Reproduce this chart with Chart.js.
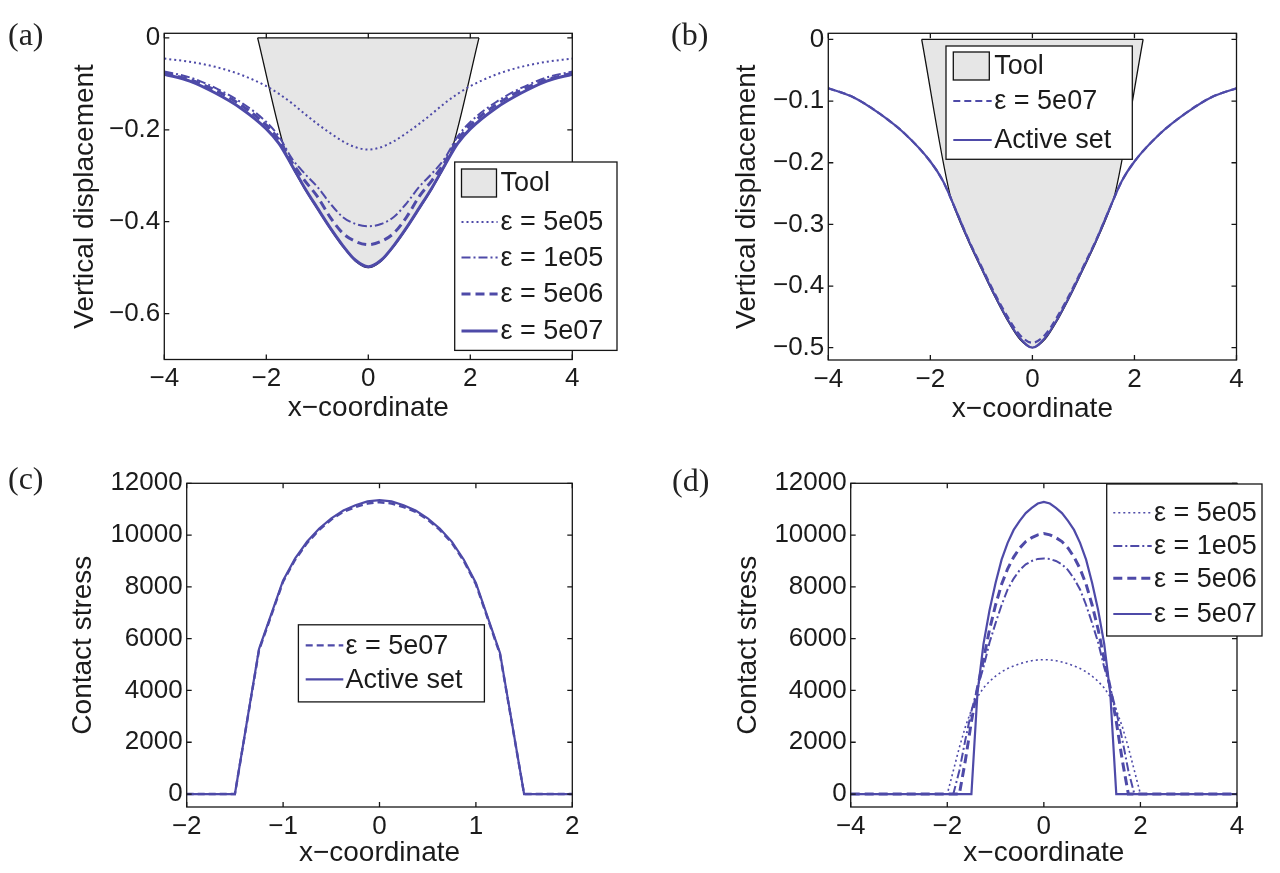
<!DOCTYPE html>
<html>
<head>
<meta charset="utf-8">
<script src="https://cdn.jsdelivr.net/npm/chart.js"></script>
<style>
  body { margin: 0; background: #fff; width: 1280px; height: 873px; position: relative; overflow: hidden; }
  .panel { position: absolute; }
  .tag { position: absolute; font-family: "Liberation Serif", "DejaVu Serif", serif; font-size: 32px; line-height: 1; color: #222; }
</style>
</head>
<body>
<div class="panel" style="left:0;top:0;width:640px;height:440px"><canvas id="chartA"></canvas></div>
<div class="panel" style="left:640px;top:0;width:640px;height:440px"><canvas id="chartB"></canvas></div>
<div class="panel" style="left:0;top:440px;width:640px;height:433px"><canvas id="chartC"></canvas></div>
<div class="panel" style="left:640px;top:440px;width:640px;height:433px"><canvas id="chartD"></canvas></div>
<span class="tag" style="left:8px;top:18px">(a)</span>
<span class="tag" style="left:671px;top:18px">(b)</span>
<span class="tag" style="left:8px;top:462px">(c)</span>
<span class="tag" style="left:672px;top:464px">(d)</span>
<script>
// vertical displacement, panels (a) and (b)
const dispX = [-4, -3.5, -3, -2.5, -2, -1.75, -1.5, -1.25, -1, -0.75, -0.5, -0.25, 0, 0.25, 0.5, 0.75, 1, 1.25, 1.5, 1.75, 2, 2.5, 3, 3.5, 4];
const disp5e05 = [-0.045, -0.052, -0.063, -0.08, -0.105, -0.122, -0.142, -0.165, -0.187, -0.207, -0.225, -0.238, -0.243, -0.238, -0.225, -0.207, -0.187, -0.165, -0.142, -0.122, -0.105, -0.08, -0.063, -0.052, -0.045];
const disp1e05 = [-0.073, -0.086, -0.109, -0.14, -0.183, -0.215, -0.262, -0.295, -0.324, -0.36, -0.39, -0.405, -0.41, -0.405, -0.39, -0.36, -0.324, -0.295, -0.262, -0.215, -0.183, -0.14, -0.109, -0.086, -0.073];
const disp5e06 = [-0.077, -0.091, -0.114, -0.146, -0.19, -0.222, -0.27, -0.31, -0.345, -0.39, -0.425, -0.443, -0.45, -0.443, -0.425, -0.39, -0.345, -0.31, -0.27, -0.222, -0.19, -0.146, -0.114, -0.091, -0.077];
const disp5e07 = [-0.079, -0.094, -0.12, -0.153, -0.198, -0.23, -0.277, -0.326, -0.37, -0.413, -0.452, -0.484, -0.498, -0.484, -0.452, -0.413, -0.37, -0.326, -0.277, -0.23, -0.198, -0.153, -0.12, -0.094, -0.079];
const dispActive = [-0.079, -0.094, -0.12, -0.153, -0.198, -0.23, -0.277, -0.326, -0.37, -0.413, -0.452, -0.484, -0.5, -0.484, -0.452, -0.413, -0.37, -0.326, -0.277, -0.23, -0.198, -0.153, -0.12, -0.094, -0.079];
const dispPenaltyB = [-0.079, -0.094, -0.12, -0.153, -0.198, -0.23, -0.277, -0.325, -0.368, -0.41, -0.448, -0.479, -0.492, -0.479, -0.448, -0.41, -0.368, -0.325, -0.277, -0.23, -0.198, -0.153, -0.12, -0.094, -0.079];

// tool outline
const toolX = [-2.17, -1.62, -1.5, -1.25, -1, -0.75, -0.5, -0.25, 0, 0.25, 0.5, 0.75, 1, 1.25, 1.5, 1.62, 2.17];
const toolY = [0, -0.25, -0.279, -0.328, -0.372, -0.415, -0.454, -0.486, -0.5, -0.486, -0.454, -0.415, -0.372, -0.328, -0.279, -0.25, 0];
const toolTopX = [-2.17, 2.17];
const toolTopY = [0, 0];

// contact stress, panel (c)
const stressXc = [-2, -1.5, -1.25, -1, -0.875, -0.75, -0.625, -0.5, -0.375, -0.25, -0.125, 0, 0.125, 0.25, 0.375, 0.5, 0.625, 0.75, 0.875, 1, 1.25, 1.5, 2];
const stressActiveC = [0, 0, 5600, 8250, 9100, 9750, 10250, 10650, 10950, 11150, 11300, 11350, 11300, 11150, 10950, 10650, 10250, 9750, 9050, 8150, 5450, 0, 0];
const stressPenaltyC = [0, 0, 5550, 8200, 9050, 9700, 10200, 10600, 10900, 11080, 11220, 11270, 11220, 11080, 10900, 10600, 10200, 9700, 9000, 8100, 5400, 0, 0];

// contact stress, panel (d)
const stressXd = [-4, -3, -2, -1.875, -1.75, -1.625, -1.5, -1.375, -1.25, -1.125, -1, -0.875, -0.75, -0.625, -0.5, -0.375, -0.25, -0.125, 0,
  0.125, 0.25, 0.375, 0.5, 0.625, 0.75, 0.875, 1, 1.125, 1.25, 1.375, 1.5, 1.625, 1.75, 1.875, 2, 3, 4];
const stress5e05 = [0, 0, 0, 900, 1800, 2600, 3250, 3750, 4100, 4350, 4550, 4720, 4850, 4950, 5030, 5100, 5150, 5180, 5190,
  5180, 5150, 5100, 5030, 4950, 4850, 4720, 4550, 4350, 4100, 3750, 3250, 2600, 1800, 900, 0, 0, 0];
const stress1e05 = [0, 0, 0, 0, 900, 2100, 3200, 4100, 4900, 5850, 6600, 7300, 7900, 8320, 8650, 8870, 9000, 9080, 9100,
  9080, 9000, 8870, 8650, 8320, 7900, 7300, 6600, 5850, 4900, 4100, 3200, 2100, 900, 0, 0, 0, 0];
const stress5e06 = [0, 0, 0, 0, 0, 1300, 2800, 4100, 5200, 6350, 7300, 8100, 8700, 9150, 9500, 9750, 9900, 10010, 10060,
  10010, 9900, 9750, 9500, 9150, 8700, 8100, 7300, 6350, 5200, 4100, 2800, 1300, 0, 0, 0, 0, 0];
const stress5e07 = [0, 0, 0, 0, 0, 0, 0, 3900, 5800, 7100, 8150, 9050, 9700, 10200, 10550, 10850, 11050, 11220, 11280,
  11220, 11050, 10850, 10550, 10200, 9700, 9050, 8150, 7100, 5800, 3900, 0, 0, 0, 0, 0, 0, 0];

// ticks
const xTicksWide = [-4, -2, 0, 2, 4];
const xTicksNarrow = [-2, -1, 0, 1, 2];
const yTicksA = [-0.6, -0.4, -0.2, 0];
const yTicksB = [-0.5, -0.4, -0.3, -0.2, -0.1, 0];
const yTicksStress = [0, 2000, 4000, 6000, 8000, 10000, 12000];

const lineColor = '#4e4aa8';
const textColor = '#1b1b1b';
const fontFamily = '"Liberation Sans", Arial, sans-serif';

Chart.defaults.font.family = fontFamily;
Chart.defaults.color = textColor;

function pts(xs, ys) {
  return xs.map((x, i) => ({ x: x, y: ys[i] }));
}

function fmtTick(v) {
  return v < 0 ? '\u2212' + String(-v) : String(v);
}

function curve(xs, ys, dash, width, order, smooth) {
  return {
    data: pts(xs, ys),
    borderColor: lineColor,
    borderWidth: width,
    borderDash: dash,
    pointRadius: 0,
    fill: false,
    order: order,
    cubicInterpolationMode: smooth ? 'monotone' : 'default',
    tension: 0
  };
}

function toolSets() {
  return [{
    data: pts(toolX, toolY),
    borderColor: '#111',
    borderWidth: 1.3,
    backgroundColor: '#e6e6e6',
    fill: { value: 0 },
    pointRadius: 0,
    order: 10,
    cubicInterpolationMode: 'monotone'
  }, {
    data: pts(toolTopX, toolTopY),
    borderColor: '#111',
    borderWidth: 1.3,
    pointRadius: 0,
    fill: false,
    order: 9
  }];
}

function makeScales(xMin, xMax, xTicks, yMin, yMax, yTicks) {
  const common = {
    type: 'linear',
    grid: { display: false, drawTicks: false },
    border: { display: false }
  };
  return {
    x: Object.assign({}, common, {
      min: xMin, max: xMax,
      afterBuildTicks: axis => { axis.ticks = xTicks.map(v => ({ value: v })); },
      afterFit: s => { s.height = 40; },
      ticks: { callback: fmtTick, font: { size: 26 }, padding: 4, maxRotation: 0, autoSkip: false, color: textColor }
    }),
    y: Object.assign({}, common, {
      min: yMin, max: yMax,
      afterBuildTicks: axis => { axis.ticks = yTicks.map(v => ({ value: v })); },
      afterFit: s => { s.width = 110; },
      ticks: { callback: fmtTick, font: { size: 26 }, padding: 4, autoSkip: false, color: textColor }
    })
  };
}

// MATLAB-like box, inward ticks, axis titles and boxed legend
const frame = {
  id: 'frame',
  afterDraw(chart, args, opts) {
    const ctx = chart.ctx;
    const a = chart.chartArea;
    const sx = chart.scales.x;
    const sy = chart.scales.y;
    ctx.save();
    ctx.setLineDash([]);
    ctx.strokeStyle = '#161616';
    ctx.lineWidth = 1.3;
    ctx.strokeRect(a.left, a.top, a.right - a.left, a.bottom - a.top);
    ctx.beginPath();
    sx.ticks.forEach(t => {
      const px = sx.getPixelForValue(t.value);
      ctx.moveTo(px, a.bottom); ctx.lineTo(px, a.bottom - 5);
      ctx.moveTo(px, a.top); ctx.lineTo(px, a.top + 5);
    });
    sy.ticks.forEach(t => {
      const py = sy.getPixelForValue(t.value);
      ctx.moveTo(a.left, py); ctx.lineTo(a.left + 5, py);
      ctx.moveTo(a.right, py); ctx.lineTo(a.right - 5, py);
    });
    ctx.stroke();

    ctx.fillStyle = textColor;
    ctx.font = '28px ' + fontFamily;
    ctx.textAlign = 'center';
    ctx.textBaseline = 'middle';
    ctx.fillText(opts.xTitle, (a.left + a.right) / 2, a.bottom + opts.xTitleGap);
    ctx.save();
    ctx.translate(a.left - opts.yTitleGap, (a.top + a.bottom) / 2);
    ctx.rotate(-Math.PI / 2);
    ctx.fillText(opts.yTitle, 0, 0);
    ctx.restore();

    const lg = opts.legend;
    const b = lg.box;
    ctx.fillStyle = '#fff';
    ctx.fillRect(b[0], b[1], b[2] - b[0], b[3] - b[1]);
    ctx.strokeStyle = '#161616';
    ctx.lineWidth = 1.3;
    ctx.strokeRect(b[0], b[1], b[2] - b[0], b[3] - b[1]);
    ctx.textAlign = 'left';
    ctx.font = '27px ' + fontFamily;
    lg.items.forEach((item, i) => {
      const y = lg.rows[i];
      if (item.ds === 'tool') {
        ctx.setLineDash([]);
        ctx.fillStyle = '#e6e6e6';
        ctx.fillRect(lg.sample[0], y - 14, lg.patchW, 28);
        ctx.strokeStyle = '#111';
        ctx.lineWidth = 1.3;
        ctx.strokeRect(lg.sample[0], y - 14, lg.patchW, 28);
      } else {
        const ds = chart.data.datasets[item.ds];
        ctx.setLineDash(ds.borderDash || []);
        ctx.strokeStyle = ds.borderColor;
        ctx.lineWidth = ds.borderWidth;
        ctx.beginPath();
        ctx.moveTo(lg.sample[0], y);
        ctx.lineTo(lg.sample[1], y);
        ctx.stroke();
      }
      ctx.setLineDash([]);
      ctx.fillStyle = textColor;
      ctx.fillText(item.label, lg.textX, y + 1);
    });
    ctx.restore();
  }
};

function makeChart(id, datasets, scales, padding, frameOpts) {
  return new Chart(document.getElementById(id), {
    type: 'line',
    data: { datasets: datasets },
    options: {
      responsive: true,
      maintainAspectRatio: false,
      animation: false,
      events: [],
      layout: { padding: padding },
      scales: scales,
      plugins: { legend: { display: false }, tooltip: { enabled: false }, frame: frameOpts }
    },
    plugins: [frame]
  });
}

const tool = toolSets();

makeChart('chartA', [
  tool[0], tool[1],
  curve(dispX, disp5e05, [2, 3], 2, 1, true),
  curve(dispX, disp1e05, [9, 3, 2, 3], 2, 2, true),
  curve(dispX, disp5e06, [9, 5], 3, 3, true),
  curve(dispX, disp5e07, [], 3, 4, true)
], makeScales(-4, 4, xTicksWide, -0.7, 0.01, yTicksA),
{ left: 54.3, top: 33.3, right: 67.7, bottom: 40.5 },
{
  xTitle: 'x\u2212coordinate', yTitle: 'Vertical displacement', xTitleGap: 48.5, yTitleGap: 79,
  legend: {
    box: [454.7, 162, 617, 350.4], sample: [461.5, 497.6], patchW: 35, textX: 500.5,
    rows: [183, 222, 257.4, 294, 331],
    items: [
      { ds: 'tool', label: 'Tool' },
      { ds: 2, label: '\u03b5 = 5e05' },
      { ds: 3, label: '\u03b5 = 1e05' },
      { ds: 4, label: '\u03b5 = 5e06' },
      { ds: 5, label: '\u03b5 = 5e07' }
    ]
  }
});

const toolB = toolSets();
makeChart('chartB', [
  toolB[0], toolB[1],
  curve(dispX, dispPenaltyB, [7, 4], 2.2, 1, true),
  curve(dispX, dispActive, [], 2.2, 2, true)
], makeScales(-4, 4, xTicksWide, -0.52, 0.01, yTicksB),
{ left: 78.3, top: 33.3, right: 43.5, bottom: 40 },
{
  xTitle: 'x\u2212coordinate', yTitle: 'Vertical displacement', xTitleGap: 49, yTitleGap: 81,
  legend: {
    box: [306, 46, 492.3, 159.3], sample: [313.3, 351.7], patchW: 36, textX: 354.3,
    rows: [66, 101, 140],
    items: [
      { ds: 'tool', label: 'Tool' },
      { ds: 2, label: '\u03b5 = 5e07' },
      { ds: 3, label: 'Active set' }
    ]
  }
});

makeChart('chartC', [
  curve(stressXc, stressPenaltyC, [7, 4], 2.4, 1, false),
  curve(stressXc, stressActiveC, [], 2.2, 2, false)
], makeScales(-2, 2, xTicksNarrow, -500, 12000, yTicksStress),
{ left: 76.7, top: 43.3, right: 67.7, bottom: 26 },
{
  xTitle: 'x\u2212coordinate', yTitle: 'Contact stress', xTitleGap: 46, yTitleGap: 103,
  legend: {
    box: [298.4, 184.8, 484.4, 261.9], sample: [305.7, 343.3], patchW: 36, textX: 345.4,
    rows: [205.4, 239.3],
    items: [
      { ds: 0, label: '\u03b5 = 5e07' },
      { ds: 1, label: 'Active set' }
    ]
  }
});

makeChart('chartD', [
  curve(stressXd, stress5e05, [2, 3], 1.6, 1, false),
  curve(stressXd, stress1e05, [9, 3, 2, 3], 2, 2, false),
  curve(stressXd, stress5e06, [9, 5], 3, 3, false),
  curve(stressXd, stress5e07, [], 2.2, 4, false)
], makeScales(-4, 4, xTicksWide, -500, 12000, yTicksStress),
{ left: 100.7, top: 43.3, right: 43, bottom: 26 },
{
  xTitle: 'x\u2212coordinate', yTitle: 'Contact stress', xTitleGap: 46, yTitleGap: 102,
  legend: {
    box: [466.7, 44, 622, 196], sample: [473.3, 511.7], patchW: 36, textX: 514,
    rows: [72.7, 106, 138.3, 174],
    items: [
      { ds: 0, label: '\u03b5 = 5e05' },
      { ds: 1, label: '\u03b5 = 1e05' },
      { ds: 2, label: '\u03b5 = 5e06' },
      { ds: 3, label: '\u03b5 = 5e07' }
    ]
  }
});
</script>
</body>
</html>
